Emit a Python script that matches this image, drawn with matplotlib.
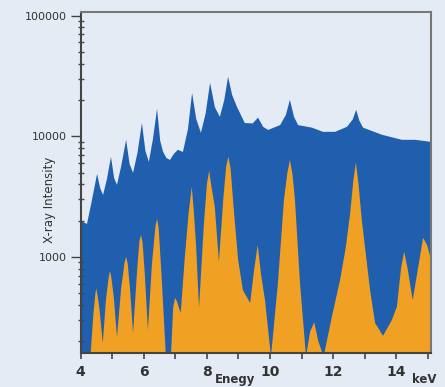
import matplotlib
matplotlib.use("Agg")
import matplotlib.pyplot as plt
from matplotlib.ticker import MultipleLocator, LogLocator, NullFormatter

# upper (blue) spectrum: energy keV, intensity
blue_e = [4.00, 4.20, 4.35, 4.52, 4.62, 4.71, 4.83, 4.96, 5.06, 5.15, 5.28, 5.44,
          5.55, 5.66, 5.80, 5.94, 6.05, 6.16, 6.29, 6.42, 6.52, 6.61, 6.72, 6.83,
          6.96, 7.08, 7.24, 7.40, 7.53, 7.66, 7.81, 7.96, 8.10, 8.25, 8.41, 8.55,
          8.67, 8.80, 8.95, 9.20, 9.45, 9.62, 9.78, 9.94, 10.32, 10.50, 10.63,
          10.76, 10.89, 11.33, 11.68, 12.06, 12.44, 12.62, 12.73, 12.83, 12.95,
          13.55, 14.18, 14.60, 15.10]
blue_i = [1990, 1880, 2900, 4890, 3700, 3270, 4400, 6760, 4500, 3960, 5600, 9360,
          5900, 4980, 7300, 12900, 7600, 6140, 9500, 16900, 9200, 7430, 6600, 6380,
          7200, 7730, 7430, 11500, 22900, 14000, 10700, 15500, 27800, 17500, 14500,
          20000, 31200, 22000, 17600, 12900, 12800, 14300, 12000, 11300, 12400, 15000,
          20100, 14500, 12400, 11800, 10900, 10900, 12000, 13800, 16600, 13500, 11800,
          10300, 9360, 9360, 9000]

# lower (orange) spectrum
orange_e = [4.31, 4.40, 4.46, 4.49, 4.53, 4.60, 4.70, 4.80, 4.89, 4.93, 4.97, 5.05,
            5.15, 5.28, 5.39, 5.44, 5.49, 5.56, 5.66, 5.78, 5.86, 5.91, 5.96, 6.03,
            6.13, 6.26, 6.37, 6.42, 6.47, 6.56, 6.70, 6.86, 6.93, 6.99, 7.05, 7.17,
            7.30, 7.42, 7.52, 7.59, 7.66, 7.75, 7.90, 8.00, 8.07, 8.14, 8.25, 8.38,
            8.52, 8.61, 8.68, 8.75, 8.85, 8.99, 9.14, 9.37, 9.50, 9.61, 9.72, 9.84,
            10.03, 10.25, 10.44, 10.55, 10.63, 10.71, 10.79, 10.95, 11.14, 11.27,
            11.40, 11.53, 11.70, 11.96, 12.22, 12.40, 12.54, 12.64, 12.72, 12.80,
            12.91, 13.17, 13.33, 13.58, 13.86, 14.02, 14.15, 14.25, 14.36, 14.52,
            14.72, 14.85, 14.98, 15.10]
orange_i = [150, 330, 480, 553, 490, 363, 193, 440, 690, 765, 680, 462,
            217, 542, 900, 1000, 880, 560, 234, 720, 1350, 1520, 1330, 737,
            248, 885, 1800, 2070, 1750, 724, 150, 150, 380, 457, 430, 343,
            1000, 2300, 3810, 2300, 1200, 377, 1820, 4000, 5200, 3900, 2600, 914,
            3050, 5600, 6790, 5400, 2500, 944, 532, 415, 800, 1258, 700, 440,
            150, 608, 2970, 5000, 6380, 4900, 2970, 608, 150, 240,
            288, 200, 150, 320, 645, 1200, 2320, 4300, 6070, 4100,
            2000, 532, 283, 222, 300, 387, 800, 1107, 800, 440,
            900, 1440, 1250, 950]

y_ticks = [1000, 10000, 100000]
y_labels = ["1000", "10000", "100000"]
x_ticks = [4, 6, 8, 10, 12, 14]

bg = "#e5ebf5"
fig = plt.figure(figsize=(4.45, 3.87), dpi=100, facecolor=bg)
ax = fig.add_axes([0.1813, 0.0879, 0.7872, 0.8819])
ax.set_facecolor(bg)

ax.fill_between(blue_e, 1, blue_i, color="#1f5fae", lw=0)
ax.fill_between(orange_e, 1, orange_i, color="#f0a023", lw=0)

ax.set_yscale("log")
ax.set_xlim(4, 15.1)
ax.set_ylim(160, 108000)

ax.set_yticks(y_ticks)
ax.set_yticklabels(y_labels, fontsize=8)
ax.yaxis.set_minor_locator(LogLocator(base=10, subs=range(2, 10)))
ax.yaxis.set_minor_formatter(NullFormatter())
ax.set_xticks(x_ticks)
ax.set_xticklabels([str(t) for t in x_ticks], fontsize=10, fontweight="bold", color="#333333")
ax.xaxis.set_minor_locator(MultipleLocator(1))

ax.tick_params(axis="y", which="major", direction="out", length=7, width=1, color="#444444", pad=3, labelcolor="#333333")
ax.tick_params(axis="y", which="minor", direction="inout", length=5, width=1, color="#444444")
ax.tick_params(axis="x", which="both", direction="out", length=4, width=1.2, color="#444444", pad=5)

for side in ["left", "bottom"]:
    ax.spines[side].set_color("#444444")
    ax.spines[side].set_linewidth(1.5)
for side in ["top", "right"]:
    ax.spines[side].set_color("#777777")
    ax.spines[side].set_linewidth(1.5)

fig.text(0.112, 0.483, "X-ray Intensity", rotation=90, ha="center", va="center", fontsize=8.5, color="#333333")
fig.text(0.528, 0.020, "Enegy", ha="center", va="center", fontsize=8.5, fontweight="bold", color="#333333")
fig.text(0.953, 0.020, "keV", ha="center", va="center", fontsize=8.5, fontweight="bold", color="#333333")

fig.savefig("out.png", dpi=100, facecolor=bg)
